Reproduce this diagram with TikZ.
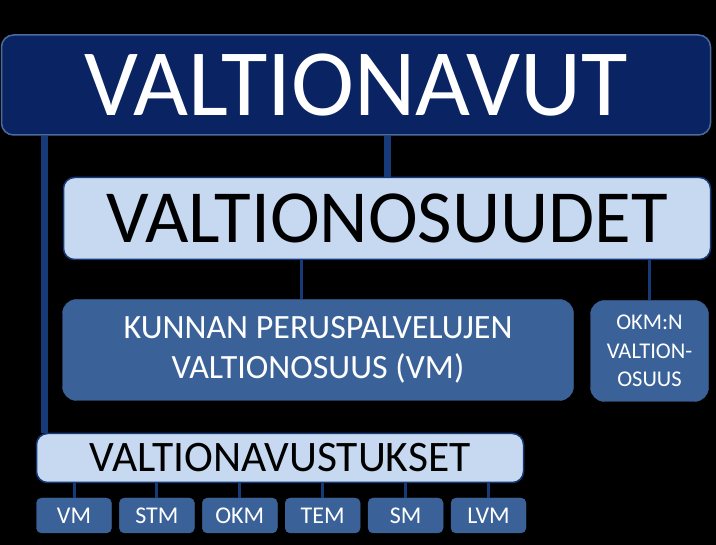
\documentclass[tikz,border=0pt]{standalone}
\usepackage{fontspec}
\setmainfont{Carlito}
\definecolor{navy}{HTML}{0A2463}
\definecolor{navyline}{HTML}{163A78}
\definecolor{paleblue}{HTML}{C6D9F1}
\definecolor{midblue}{HTML}{3A6299}
\definecolor{rimblue}{HTML}{4A6C9E}
\tikzset{
    topbox/.style={draw=rimblue, line width=1.5pt, fill=navy, text=white,
        rounded corners=12pt, inner sep=0pt, align=center},
    palebox/.style={draw=navyline, line width=1.5pt, fill=paleblue, text=black,
        rounded corners=11pt, inner sep=0pt, align=center},
    midbox/.style={draw=midblue, fill=midblue, text=white,
        rounded corners=14pt, inner sep=0pt, align=center},
    minibox/.style={draw=midblue, fill=midblue, text=white,
        rounded corners=5pt, inner sep=0pt, minimum width=75pt, minimum height=35pt,
        font=\fontsize{24}{26}\selectfont},
    trunk/.style={navyline, line width=7pt},
    twig/.style={navyline, line width=3pt},
    }

\begin{document}
\begin{tikzpicture}[x=1pt,y=-1pt]
	\fill[black] (0,0) rectangle (716,545);
	\useasboundingbox (0,0) rectangle (716,545);
	\node[topbox, minimum width=709pt, minimum height=100pt,
		font=\fontsize{95}{100}\selectfont] (top) at (356,85) {\raisebox{-2.5pt}{VALTIONAVUT}};
	\node[palebox, minimum width=647pt, minimum height=82pt,
		font=\fontsize{75}{80}\selectfont] (osuud) at (387,218.5) {VALTIONOSUUDET};
	\node[midbox, minimum width=511pt, minimum height=101pt,
		font=\fontsize{34}{40}\selectfont] (kunnan) at (318,350)
		{KUNNAN PERUSPALVELUJEN\\VALTIONOSUUS (VM)};
	\node[midbox, minimum width=118pt, minimum height=101pt,
		font=\fontsize{22.5}{28.5}\selectfont] (okmn) at (649.5,351)
		{OKM:N\\VALTION-\\OSUUS};
	\node[palebox, minimum width=487pt, minimum height=49pt,
		font=\fontsize{43.5}{46}\selectfont] (avust) at (280,458) {VALTIONAVUSTUKSET};
	% ministries
	\foreach \m [count=\i from 0] in {VM,STM,OKM,TEM,SM,LVM}
		\node[minibox] (min\i) at ({74+82.9*\i},515.5) {\m};

	\draw[trunk] ([xshift=44pt]top.south west) -- ([xshift=44pt]top.south west |- avust.north);
	\draw[trunk] (osuud.north) -- (osuud.north |- top.south);
	\draw[twig] ([xshift=-17pt]kunnan.north) -- ([xshift=-17pt]kunnan.north |- osuud.south);
	\draw[twig] (okmn.north) -- (okmn.north |- osuud.south);
	\foreach \i in {0,...,5}
		\draw[twig] (min\i.north) -- (min\i.north |- avust.south);
\end{tikzpicture}
\end{document}
